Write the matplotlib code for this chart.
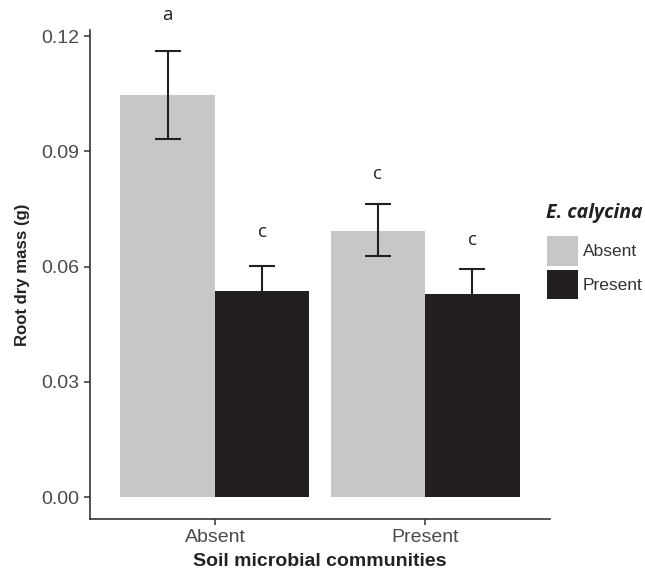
import matplotlib
matplotlib.use("Agg")
import matplotlib.pyplot as plt
from matplotlib.patches import Patch
from matplotlib.font_manager import FontProperties
import numpy as np

plt.rcParams['font.family'] = ['Liberation Sans', 'DejaVu Sans']

communities = ["Absent", "Present"]
calycina = ["Absent", "Present"]
means = {"Absent": [0.1046, 0.0693], "Present": [0.0537, 0.0530]}
err_hi = {"Absent": [0.1162, 0.0762], "Present": [0.0602, 0.0594]}
err_lo = {"Absent": [0.0933, 0.0628], "Present": [0.0472, 0.0466]}
letters = {"Absent": ["a", "c"], "Present": ["c", "c"]}
letter_y = {"Absent": [0.1255, 0.0840], "Present": [0.0690, 0.0669]}

colors = {"Absent": "#c6c7c9", "Present": "#231f20"}
err_z = {"Absent": 3, "Present": 1}
dark = "#231f20"

fig = plt.figure(figsize=(6.45, 5.74), dpi=100)
ax = fig.add_axes([90/645, 55/574, 460/645, 489/574])

x = np.arange(1, len(communities) + 1)
w = 0.45
offsets = {"Absent": -w/2, "Present": w/2}
for g in calycina:
    xs = x + offsets[g]
    ax.bar(xs, means[g], width=w, color=colors[g], edgecolor='none', zorder=2)
    for xi, m, hi, lo, lab, ly in zip(xs, means[g], err_hi[g], err_lo[g], letters[g], letter_y[g]):
        ax.errorbar([xi], [m], yerr=[[m - lo], [hi - m]], fmt='none', ecolor=dark,
                    elinewidth=1.5, capsize=9.4, capthick=1.5, zorder=err_z[g])
        ax.text(xi, ly, lab, ha='center', va='center', fontsize=13.5,
                family=['Open Sans', 'DejaVu Sans'], color=dark, clip_on=False)

ax.set_xlim(0.405, 2.595)
ax.set_ylim(-0.0057, 0.1216)
ax.set_yticks([0.0, 0.03, 0.06, 0.09, 0.12])
ax.set_yticklabels(["0.00", "0.03", "0.06", "0.09", "0.12"])
ax.set_xticks(x)
ax.set_xticklabels(communities)
ax.tick_params(axis='both', colors='#333333', labelcolor='#4a4a4a', labelsize=14,
               length=4, width=1.1)
for s in ['top', 'right']:
    ax.spines[s].set_visible(False)
for s in ['left', 'bottom']:
    ax.spines[s].set_color('#333333')
    ax.spines[s].set_linewidth(1.2)

ax.set_ylabel("Root dry mass (g)", fontsize=12.1, fontweight='bold', color='#222222', labelpad=8.5)
ax.set_xlabel("Soil microbial communities", fontsize=14, fontweight='bold', color='#222222', labelpad=5)

fig.text(546/645, 1 - 213/574, "E. calycina", ha='left', va='center',
         fontproperties=FontProperties(family='Open Sans', style='italic', weight='bold', size=14),
         color=dark)

handles = [Patch(facecolor=colors[g], edgecolor='none', label=g) for g in calycina]
leg = fig.legend(handles=handles, loc='upper left', bbox_to_anchor=(547/645, 1 - 236/574),
                 frameon=False, fontsize=12.5, borderpad=0,
                 handlelength=1.78, handleheight=2.24, handletextpad=0.3, labelspacing=0.23,
                 borderaxespad=0)
for t in leg.get_texts():
    t.set_color('#333333')

fig.savefig("out.png", dpi=100)
